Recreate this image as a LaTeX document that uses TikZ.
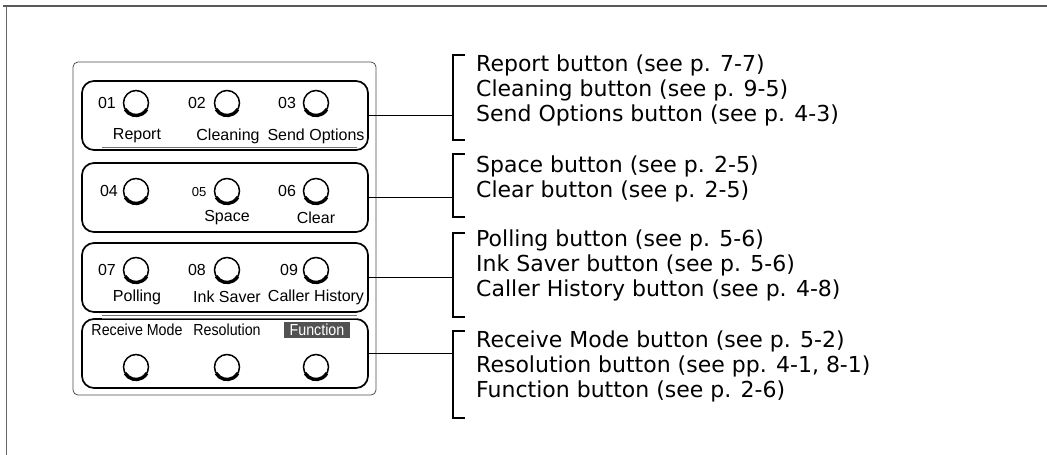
\documentclass[tikz,border=0pt]{standalone}
\usepackage{fontspec}
\setmainfont{DejaVu Sans}
\newfontfamily\panelfont{Liberation Sans}
\newfontfamily\panelnarrow[FakeStretch=0.89]{Liberation Sans}
\usetikzlibrary{positioning}

\tikzset{
  grp/.style={draw, rounded corners=12pt, line width=1.7pt,
    minimum width=286pt, minimum height=69pt},
  btn/.style={circle, draw, line width=1.5pt, minimum size=25pt,
    inner sep=0pt, outer sep=0pt},
  btnshade/.style={line width=3.4pt},
  num/.style={font=\panelfont\fontsize{16}{18}\selectfont, inner sep=0pt},
  lbl/.style={font=\panelfont\fontsize{16}{18}\selectfont, inner sep=0pt},
  lblnarrow/.style={font=\panelnarrow\fontsize{16}{18}\selectfont, inner sep=0pt},
  ref/.style={font=\fontsize{22}{25}\selectfont, inner sep=0pt, anchor=base west},
  brk/.style={line width=1.5pt},
  wire/.style={line width=1.7pt}
}

\begin{document}
\begin{tikzpicture}[x=1pt,y=1pt]
   \useasboundingbox (0,0) rectangle (1047,-455);
   % page frame
   \draw[black!65, line width=2.6pt] (3,-6) -- (1047,-6);
   \draw[black!60, line width=1pt] (6,-6) -- (6,-455);

   % panel
   \draw[black!70, line width=0.8pt, rounded corners=5pt] (73,-62) rectangle (376,-395);
   \node[grp] (g1) at (225,-115.5) {};
   \node[grp] (g2) at (225,-197.5) {};
   \node[grp] (g3) at (225,-277.5) {};
   \node[grp] (g4) at (225,-353.5) {};
   \draw[black!55, line width=0.6pt] (102,-147) -- (357,-147);
   \draw[black!55, line width=0.6pt] (102,-315.5) -- (357,-315.5);
   \draw[black!55, line width=0.6pt] (102,-318) -- (357,-318);

   % row 1
   \node[btn] (k01) at (136,-103) {};
   \node[btn] (k02) at (227,-103) {};
   \node[btn] (k03) at (316,-103) {};
   \node[num] (n01) at (107,-103) {01};
   \node[num] (n02) at (197,-103) {02};
   \node[num] (n03) at (287,-103) {03};
   \node[lbl] (l01) at (137,-136) {Report};
   \node[lbl] (l02) at (228,-136) {Cleaning};
   \node[lbl] (l03) at (316,-136) {Send Options};

   % row 2
   \node[btn] (k04) at (136,-191) {};
   \node[btn] (k05) at (227,-191) {};
   \node[btn] (k06) at (316,-191) {};
   \node[num] (n04) at (109,-191) {04};
   \node[num, font=\panelfont\fontsize{13}{15}\selectfont] (n05) at (199,-192) {05};
   \node[num] (n06) at (287,-191) {06};
   \node[lbl] (l05) at (227,-218) {Space};
   \node[lbl] (l06) at (316,-218) {Clear};

   % row 3
   \node[btn] (k07) at (136,-270) {};
   \node[btn] (k08) at (227,-270) {};
   \node[btn] (k09) at (316,-270) {};
   \node[num] (n07) at (107,-270) {07};
   \node[num] (n08) at (197,-270) {08};
   \node[num] (n09) at (289,-270) {09};
   \node[lbl] (l07) at (137,-297) {Polling};
   \node[lbl] (l08) at (227,-297) {Ink Saver};
   \node[lbl] (l09) at (316,-297) {Caller History};

   % row 4
   \node[lblnarrow] (l10) at (137,-330) {Receive Mode};
   \node[lblnarrow] (l11) at (227,-330) {Resolution};
   \node[lblnarrow, fill=black!68, text=white, inner xsep=6pt, inner ysep=2.5pt] (l12) at (317,-330) {Function};
   \node[btn] (k10) at (136,-367) {};
   \node[btn] (k11) at (227,-367) {};
   \node[btn] (k12) at (316,-367) {};

   \foreach \k in {k01,k02,k03,k04,k05,k06,k07,k08,k09,k10,k11,k12}
      \draw[btnshade] (\k.210) arc[start angle=210, end angle=330, radius=12.5pt];

   % brackets
   \draw[brk] (465,-55) -| (453,-140) -- (465,-140);
   \draw[brk] (465,-154) -| (453,-217) -- (465,-217);
   \draw[brk] (465,-233) -| (453,-317) -- (465,-317);
   \draw[brk] (465,-331) -| (453,-418) -- (465,-418);
   \coordinate (b1) at (453,-100);
   \coordinate (b2) at (453,-190);
   \coordinate (b3) at (453,-275);
   \coordinate (b4) at (453,-370);

   \draw[wire] (g1.east) -- (g1.east -| b1);
   \draw[wire] (g2.east) -- (g2.east -| b2);
   \draw[wire] (g3.east) -- (g3.east -| b3);
   \draw[wire] (g4.east) -- (g4.east -| b4);

   % page references
   \node[ref] (t01) at (476,-71) {Report button (see p. 7-7)};
   \node[ref] (t02) at (476,-96) {Cleaning button (see p. 9-5)};
   \node[ref] (t03) at (476,-121) {Send Options button (see p. 4-3)};
   \node[ref] (t05) at (476,-172) {Space button (see p. 2-5)};
   \node[ref] (t06) at (476,-197) {Clear button (see p. 2-5)};
   \node[ref] (t07) at (476,-246) {Polling button (see p. 5-6)};
   \node[ref] (t08) at (476,-271) {Ink Saver button (see p. 5-6)};
   \node[ref] (t09) at (476,-296) {Caller History button (see p. 4-8)};
   \node[ref] (t10) at (476,-347) {Receive Mode button (see p. 5-2)};
   \node[ref] (t11) at (476,-372) {Resolution button (see pp. 4-1, 8-1)};
   \node[ref] (t12) at (476,-397) {Function button (see p. 2-6)};
\end{tikzpicture}
\end{document}
